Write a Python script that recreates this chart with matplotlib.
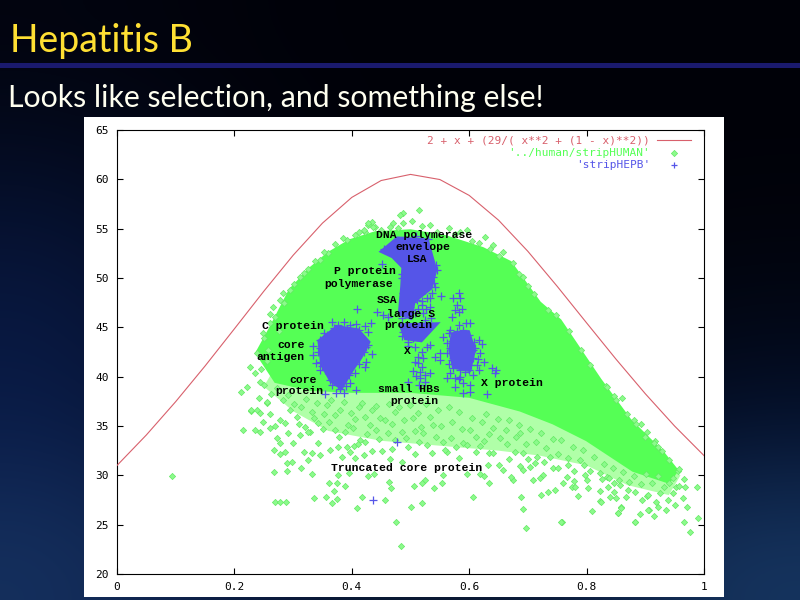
# coding: UTF-8

import numpy as np
import matplotlib
matplotlib.use("Agg")
import matplotlib.pyplot as plt

# slide background, coarse colours from the picture
bg_grid = [
    ["#02040f", "#01020a", "#000108", "#000108", "#000108"],
    ["#050e28", "#02040f", "#000108", "#000108", "#010209"],
    ["#081840", "#030818", "#000108", "#01030c", "#020612"],
    ["#0a1c48", "#050c22", "#010310", "#020614", "#04102c"],
    ["#15305e", "#0a1a40", "#0a1830", "#0c1c3c", "#163560"],
]

curve_x = [0, .05, .1, .15, .2, .25, .3, .35, .4, .45, .5, .55, .6, .65, .7, .75, .8, .85, .9, .95, 1]
curve_y = [31, 34.09, 37.47, 41.08, 44.85, 48.65, 52.3, 55.56, 58.17, 59.88, 60.5, 59.98, 58.37,
           55.86, 52.7, 49.15, 45.45, 41.78, 38.27, 34.99, 32]

# outline of the solid green mass
dense_x = [.238, .262, .295, .33, .36, .397, .44, .50, .56, .623, .67, .72, .755, .823, .874, .93, .954,
           .94, .879, .80, .743, .687, .60, .50, .40, .33, .27]
dense_y = [42.4, 45, 48.8, 51, 52.5, 53.8, 54.6, 54.8, 54.2, 53, 51.6, 47.5, 45.7, 39.7, 35.6, 32.3, 30.5,
           29.3, 30.5, 33.6, 35.3, 36.6, 38, 38.5, 38.5, 38.7, 39.5]

# outline of the speckled part below it
speckle_x = [.25, .30, .36, .45, .55, .65, .72, .80, .87, .94, .96, .88, .70, .50, .27]
speckle_y = [39, 36.5, 34.5, 33.5, 33, 32.5, 32, 31, 29, 28, 30, 33, 38, 40, 41]

# single green points around the mass
green_x = [.094, .215, .235, .244, .229, .239, .249, .261, .261, .269, .277, .286, .272, .277, .268, .277, .286,
           .289, .298, .268, .290, .314, .332, .299, .292, .312, .329, .343, .319, .332, .346, .326, .363, .377,
           .383, .391, .404, .423, .414, .397, .405, .420, .435, .452, .469, .465, .485, .508, .377, .396, .427,
           .437, .362, .375, .389, .370, .464, .466, .506, .525, .519, .540, .553, .556, .335, .356, .374, .367,
           .418, .457, .409, .501, .520, .269, .277, .288, .476, .483,
           .597, .618, .625, .634, .607, .689, .691, .697, .758, .810, .723, .735, .747, .785, .823, .803, .823,
           .837, .847, .840, .850, .867, .859, .854, .891, .883, .914, .921, .906, .894, .903, .709, .675, .672,
           .726, .721, .760, .766, .775, .780, .779, .797, .800, .826, .834, .846, .857, .871, .883, .650, .658,
           .667, .633, .632, .583, .618, .634, .687, .692, .704, .712, .743, .769, .795,
           .988, .968, .971, .989, .976, .966, .882, .854, .859, .757, .824, .936, .951, .965, .948, .953, .939,
           .905, .919, .905, .925, .956, .922, .928, .917, .903, .892, .880, .861, .847, .833,
           .515, .488, .482, .434, .428, .471, .502, .533, .565, .584, .488, .465, .44, .423,
           .627, .658, .641, .596, .616, .692, .675,
           .36, .326, .295, .278, .261, .312, .346, .428, .391, .406, .42, .283, .266, .249, .238, .212, .227,
           .244, .235, .229, .244, .221, .261, .258,
           .255, .295, .306, .343, .326, .380, .434, .457, .474, .505, .485, .496, .539, .556, .562, .536, .417,
           .357, .394, .371, .442, .522, .559, .590, .687, .738, .692, .601, .653, .715]
green_y = [29.9, 34.59, 34.59, 34.42, 36.51, 36.62, 35.43, 36.21, 34.76, 35.0, 35.6, 35.33, 33.75, 33.24, 32.56,
           32.16, 32.33, 31.21, 31.31, 30.33, 30.47, 30.71, 30.1, 33.31, 34.25, 34.08, 34.42, 33.24, 32.33, 32.23,
           32.06, 31.55, 32.56, 32.9, 31.82, 32.9, 33.0, 33.41, 33.58, 32.39, 31.72, 32.06, 32.5, 32.46, 32.63,
           31.62, 31.38, 32.16, 30.03, 30.2, 29.93, 30.13, 29.19, 29.19, 28.91, 28.37, 29.29, 28.68, 28.91, 29.52,
           29.25, 28.75, 29.19, 30.03, 27.66, 27.77, 27.6, 27.16, 27.83, 27.5, 26.65, 26.75, 27.16, 27.26, 27.33,
           27.26, 25.3, 22.87,
           30.13, 30.13, 29.96, 29.19, 27.77, 27.77, 26.58, 24.63, 25.23, 26.38, 27.97, 28.27, 28.48, 27.87, 27.36,
           28.68, 28.41, 28.78, 28.27, 27.77, 27.73, 27.83, 26.75, 26.14, 26.04, 25.23, 25.91, 26.75, 26.48, 27.5,
           27.93, 29.52, 29.52, 29.86, 30.03, 29.69, 29.19, 29.79, 28.85, 28.78, 29.42, 30.03, 29.52, 29.59, 29.79,
           29.19, 29.02, 28.51, 28.34, 31.04, 30.54, 31.62, 32.23, 31.04, 31.72, 32.97, 34.18, 30.94, 30.54, 30.87,
           31.28, 30.7, 31.04, 31.04,
           28.78, 28.85, 26.76, 25.64, 24.29, 25.3, 25.24, 26.15, 26.65, 25.24, 27.33, 26.49, 26.99, 27.67, 28.18,
           28.85, 27.5, 28.0, 27.33, 26.49, 28.18, 30.47, 32.9, 32.5, 33.5, 34.36, 35.2, 35.6, 37.8, 38.04, 39.05,
           56.89, 56.55, 56.38, 55.7, 55.37, 55.54, 55.77, 55.37, 55.03, 54.69, 55.54, 55.2, 55.2, 54.69,
           54.19, 52.67, 53.34, 54.86, 53.51, 50.13, 51.49,
           52.5, 50.88, 48.78, 47.77, 46.4, 50.13, 51.82, 55.54, 53.85, 54.36, 54.86, 48.45, 47.1, 44.4, 42.37,
           38.48, 41.0, 39.5, 40.34, 36.62, 36.28, 38.99, 45.4, 42.7,
           37.29, 36.62, 35.94, 35.27, 34.42, 36.62, 36.62, 35.6, 36.45, 35.77, 34.42, 32.9, 35.1, 33.41, 32.39,
           32.23, 37.29, 37.12, 35.1, 34.59, 34.59, 34.25, 32.56, 33.24, 34.25, 31.89, 32.23, 34.59, 33.75, 31.89]

# more green points, speckled band
band_x = [.282, .291, .301, .313, .322, .333, .341, .352, .364, .372, .386, .398, .405, .412, .423, .441, .448,
          .463, .468, .481, .489, .499, .512, .518, .527, .533, .547, .552, .565, .571, .583, .588, .604, .611,
          .622, .629, .641, .649, .662, .668, .679, .684, .697, .703, .714, .722, .731, .742, .751, .757, .768,
          .776, .788, .794, .806, .812, .823, .829, .838, .845, .856, .862, .872, .88, .893, .901, .912, .921,
          .932, .941, .948, .958, .966,
          .31, .321, .335, .351, .362, .379, .388, .402, .411, .426, .431, .447, .461, .473, .492, .507, .515,
          .528, .544, .569, .578, .597, .612, .626, .641, .664, .678, .701, .727, .752, .778]
band_y = [37.6, 38.1, 37.2, 36.9, 37.7, 36.4, 37.3, 36.2, 37.6, 36.1, 37.4, 36.3, 35.7, 36.9, 35.9, 37.0, 35.8,
          37.2, 35.2, 36.9, 35.6, 37.1, 36.3, 34.9, 37.2, 35.9, 36.6, 35.0, 36.9, 35.4, 36.4, 34.7, 35.8, 33.9,
          35.4, 36.2, 34.8, 35.7, 34.6, 35.6, 33.9, 35.1, 33.2, 34.7, 33.4, 34.3, 32.8, 33.7, 32.2, 33.6, 31.8,
          32.9, 31.6, 32.6, 30.4, 31.9, 30.2, 31.1, 29.7, 30.7, 29.5, 30.3, 29.3, 29.9, 29.1, 30.1, 29.2, 29.9,
          28.8, 29.2, 29.7, 28.9, 29.6,
          35.2, 34.9, 35.8, 34.7, 35.4, 33.9, 34.4, 34.8, 33.2, 34.2, 35.1, 33.7, 34.3, 33.6, 33.8, 34.5, 33.4,
          33.1, 33.9, 33.8, 32.9, 33.1, 32.4, 33.5, 32.3, 33.2, 32.4, 31.7, 31.4, 30.7, 30.4]

# more green points, rim of the mass
rim_x = [.25, .255, .27, .276, .285, .302, .318, .338, .352, .372, .385, .412, .436, .45, .478, .52, .545, .575,
         .605, .635, .65, .685, .70, .71, .735, .748, .77, .79, .805, .835, .85, .868, .885, .90, .915, .94, .958,
         .245, .25, .262, .273, .242, .256]
rim_y = [43.9, 41.6, 46, 44.6, 47.5, 49.4, 50.5, 51.7, 52.6, 53.4, 54.1, 54.7, 55.2, 54.9, 55.1, 55.3, 54.7, 54.5,
         53.8, 52.9, 52.2, 50.4, 49.2, 48.4, 46.8, 46.2, 44.6, 42.7, 41.2, 39, 37.6, 36.2, 35.2, 33.9, 33.3, 31.6, 30.6,
         40.8, 39.2, 38.2, 38.9, 37.8, 37.4]

# solid blue patches: left cluster, top of the column, band, right cluster
core1_x = [.345, .375, .41, .428, .415, .40, .382, .365, .35]
core1_y = [43.6, 45, 44.7, 43.5, 42, 40.7, 38.9, 39.6, 41.2]
core2_x = [.452, .478, .528, .542, .534, .505, .50, .482, .486, .488, .47]
core2_y = [52.7, 54, 53.8, 50.81, 49, 47.6, 46, 46.4, 49.1, 51.1, 52.2]
core3_x = [.484, .543, .518, .492]
core3_y = [45.2, 45.3, 43.7, 43.9]
core4_x = [.572, .598, .608, .600, .574, .568]
core4_y = [44.3, 44.5, 42.7, 40.7, 41.0, 42.7]

# single blue points
blue_x = [.4776, .4367,
          .366, .377, .386, .397, .408, .423, .432, .428, .352, .354, .334, .343, .334, .346, .339, .346, .354,
          .363, .363, .366, .377, .354, .373, .387, .408, .397, .388, .406, .423, .425, .434, .420, .424, .408,
          .357, .371, .380, .391, .374, .380,
          .451, .485, .539, .542, .536, .552, .528, .511, .519, .499, .533, .522, .508, .409, .443, .453, .462,
          .488, .485, .496, .508, .528, .533, .519, .513, .522, .513, .542, .550, .550, .504, .516, .525, .516,
          .533, .496, .545, .494, .505, .516, .525, .488,
          .582, .572, .584, .579, .587, .576, .582, .570, .582, .595, .601,
          .556, .565, .568, .562, .567, .562, .573, .616, .621, .607, .619, .607, .626, .613, .638, .646, .644,
          .616, .607, .573, .567, .562, .584, .590, .601, .576, .589, .601, .631, .584, .599,
          .50, .513, .527, .491, .505, .52, .533, .513, .5, .527, .54, .503, .515, .543, .486, .478, .466, .455,
          .49, .53, .51, .485, .525, .535, .495, .505, .515, .52, .508, .51, .525, .515,
          .358, .37, .392, .413, .345, .346, .352, .36, .364, .35, .362, .375, .385, .395, .40, .413, .415, .417,
          .428, .38, .39, .372,
          .57, .58, .59, .6, .608, .61, .598, .603, .615, .582, .592, .57, .566, .575]
blue_y = [33.35, 27.47,
          45.57, 45.24, 45.57, 45.24, 45.34, 45.17, 45.4, 44.56, 44.46, 43.55, 43.11, 42.53, 42.2, 41.52, 41.35,
          40.68, 40.68, 40.34, 39.66, 39.16, 39.16, 38.24, 38.38, 38.31, 38.65, 39.32, 40.0, 40.34, 41.01, 41.52,
          42.3, 42.53, 43.04, 41.69, 42.03, 41.52, 40.68, 41.01, 40.0, 39.66,
          51.38, 49.97, 50.13, 49.12, 48.45, 48.17, 47.94, 47.77, 47.26, 47.09, 47.09, 46.42, 46.42, 46.82, 46.59,
          46.25, 46.08, 44.56, 44.12, 43.55, 43.04, 43.04, 43.21, 42.53, 42.03, 41.86, 41.35, 42.03, 42.37, 41.69,
          40.57, 40.5, 40.17, 39.83, 40.34, 39.49, 50.81, 48.78, 48.95, 49.46, 48.78, 48.45,
          48.45, 47.94, 47.94, 47.26, 46.86, 46.76, 46.59, 46.08, 45.24, 45.4, 45.4,
          44.05, 44.39, 44.73, 43.38, 42.87, 42.37, 41.86, 43.72, 43.28, 42.7, 42.37, 41.86, 41.45, 41.18, 40.91,
          40.68, 40.34, 40.68, 40.17, 40.84, 40.34, 39.83, 40.0, 39.32, 39.16, 38.99, 38.38, 38.48, 38.21, 40.68, 40.68,
          46.8, 46.9, 46.9, 47.5, 47.6, 47.7, 48, 48.4, 48.4, 49.7, 49.5, 50.1, 50.5, 51.3, 50.4, 53.3, 53.1, 52.9,
          54.2, 54.0, 54.3, 45.9, 45.7, 45.9, 43.1, 43.9, 44.2, 41, 41.5, 40.1, 39.5, 39.2,
          44.2, 44.9, 44.8, 44.7, 43.7, 42.9, 42.4, 43, 41.8, 41.1, 40.9, 40.4, 40.5, 40.2, 41.6, 41.3, 42.6, 43.8,
          43.2, 38.7, 39.1, 39.7,
          43.6, 44.6, 44.7, 44.2, 43.5, 42.9, 41.9, 41.2, 41.8, 39.8, 40.5, 41.7, 41.3, 39.9]

# labels on the plot
label_text = ["DNA polymerase", "envelope", "LSA", "P protein", "polymerase", "SSA", "large S", "protein",
              "C protein", "core", "antigen", "X", "core", "protein", "small HBs", "protein", "X protein",
              "Truncated core protein"]
label_x = [.523, .521, .511, .422, .412, .460, .501, .497, .300, .296, .279, .494, .317, .310, .497, .506, .673, .494]
label_y = [54.36, 53.14, 51.93, 50.71, 49.39, 47.77, 46.4, 45.2, 45.13, 43.2, 42.0, 42.6, 39.7, 38.55, 38.75,
           37.55, 39.36, 30.74]

x_ticks = [0, .2, .4, .6, .8, 1]
x_tick_labels = ["0", "0.2", "0.4", "0.6", "0.8", "1"]
y_ticks = [20, 25, 30, 35, 40, 45, 50, 55, 60, 65]

RED = "#d8606c"
GREEN = "#55ff55"
BLUE = "#5555e8"

fig = plt.figure(figsize=(8, 6), dpi=100)

# background
rgb = np.array([[matplotlib.colors.to_rgb(c) for c in row] for row in bg_grid])
bg = fig.add_axes([0, 0, 1, 1], zorder=0)
bg.imshow(rgb, aspect="auto", interpolation="bicubic", extent=[0, 800, 600, 0])
bg.add_patch(plt.Rectangle((0, 63), 800, 5, color="#1a1a6e", lw=0))
bg.add_patch(plt.Rectangle((84, 117), 640, 480, color="white", lw=0))
bg.set_xlim(0, 800)
bg.set_ylim(600, 0)
bg.axis("off")
bg.text(10, 52, "Hepatitis B", color="#ffe033", fontsize=27, family="Lato")
bg.text(8, 107, "Looks like selection, and something else!", color="#fffff0", fontsize=21.8, family="Lato")

ax = fig.add_axes([117 / 800, 1 - 574 / 600, 587 / 800, 444 / 600], zorder=1)
ax.set_xlim(0, 1)
ax.set_ylim(20, 65)

ax.fill(speckle_x, speckle_y, color="#b0ffa8", lw=0, zorder=1)
ax.fill(dense_x, dense_y, color=GREEN, lw=2, zorder=2)
ax.scatter(green_x + band_x + rim_x, green_y + band_y + rim_y, marker="D", s=10, facecolor="#8cfa8c",
           edgecolor="#62ea62", linewidths=0.5, zorder=3)
ax.plot(curve_x, curve_y, color=RED, lw=0.8, zorder=3)

for px, py in [(core1_x, core1_y), (core2_x, core2_y), (core3_x, core3_y), (core4_x, core4_y)]:
    ax.fill(px, py, color=BLUE, lw=3, zorder=4)
ax.scatter(blue_x, blue_y, marker="+", s=28, color=BLUE, linewidths=0.9, zorder=5)

for s, lx, ly in zip(label_text, label_x, label_y):
    ax.text(lx, ly, s, ha="center", va="center", family="Liberation Mono", weight="bold",
            fontsize=8.2, color="black", zorder=6)

ax.set_xticks(x_ticks)
ax.set_xticklabels(x_tick_labels)
ax.set_yticks(y_ticks)
ax.tick_params(direction="in", length=4, width=0.8, top=True, right=True, pad=6, labelsize=8)
for t in ax.get_xticklabels() + ax.get_yticklabels():
    t.set_family("DejaVu Sans Mono")
for sp in ax.spines.values():
    sp.set_linewidth(0.8)

# gnuplot style key
key = dict(transform=ax.transAxes, ha="right", va="center", family="DejaVu Sans Mono", fontsize=8, zorder=7)
ax.text(.908, .977, "2 + x + (29/( x**2 + (1 - x)**2))", color=RED, **key)
ax.text(.908, .949, "'../human/stripHUMAN'", color=GREEN, **key)
ax.text(.908, .921, "'stripHEPB'", color=BLUE, **key)
ax.plot([.920, .978], [.977, .977], color=RED, lw=0.8, transform=ax.transAxes, zorder=7)
ax.scatter([.949], [.949], marker="D", s=10, facecolor="#8cfa8c", edgecolor="#62ea62", linewidths=0.5,
           transform=ax.transAxes, zorder=7)
ax.scatter([.949], [.921], marker="+", s=24, color=BLUE, linewidths=0.9, transform=ax.transAxes, zorder=7)

fig.savefig("out.png", dpi=100)
